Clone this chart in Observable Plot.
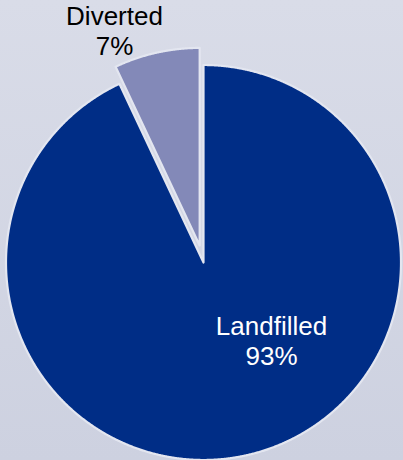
<!DOCTYPE html>
<html><head><meta charset="utf-8">
<script src="https://cdn.jsdelivr.net/npm/d3@7"></script>
<script src="https://cdn.jsdelivr.net/npm/@observablehq/plot@0.6"></script>
<style>
html,body{margin:0;padding:0;}
body{width:403px;height:460px;overflow:hidden;background:#d5d8e5;}
#chart svg{display:block;}
</style></head><body><div id="chart"></div>
<script>
// data
const categories = ["Landfilled", "Diverted"];
const shares = [93, 7];
const labelTexts = ["Landfilled\n93%", "Diverted\n7%"];

// layout (pixels)
const W = 403, H = 460;
const cx = 203, cy = 262, R = 197.5;
const explodePx = [0, 17.5];
const sliceColors = ["#002d86", "#8389b8"];
const textColors = ["#ffffff", "#000000"];
const labelPx = [[271, 340], [114, 30]];

const arcs = d3.pie().sort(null)(shares);
const outline = [];
arcs.forEach((a, i) => {
  const mid = (a.startAngle + a.endAngle) / 2;
  const ox = explodePx[i] / R * Math.sin(mid), oy = explodePx[i] / R * Math.cos(mid);
  outline.push({cat: categories[i], x: ox, y: oy});
  const n = Math.max(2, Math.ceil((a.endAngle - a.startAngle) / 0.004));
  for (let k = 0; k <= n; k++) {
    const t = a.startAngle + (a.endAngle - a.startAngle) * k / n;
    outline.push({cat: categories[i], x: ox + Math.sin(t), y: oy + Math.cos(t)});
  }
});

const labelData = categories.map((c, i) => ({
  cat: c, text: labelTexts[i], color: textColors[i],
  x: (labelPx[i][0] - cx) / R, y: (cy - labelPx[i][1]) / R
}));

const chart = Plot.plot({
  width: W, height: H,
  margin: 0,
  x: {domain: [-cx / R, (W - cx) / R], range: [0, W], axis: null},
  y: {domain: [-(H - cy) / R, cy / R], range: [H, 0], axis: null},
  color: {domain: categories, range: sliceColors},
  style: {background: "linear-gradient(#d9dce8, #cdd1e0)", fontFamily: "'Liberation Sans', Arial, sans-serif"},
  marks: [
    Plot.line(outline, {x: "x", y: "y", z: "cat", fill: "cat", stroke: "#e3e6f0", strokeWidth: 2.2, curve: "linear-closed"}),
    Plot.text(labelData, {x: "x", y: "y", text: "text", fill: "color", fontSize: 26, lineHeight: 30 / 26, fontFamily: "'Liberation Sans', Arial, sans-serif"})
  ]
});
document.getElementById("chart").appendChild(chart);
</script>
</body></html>
